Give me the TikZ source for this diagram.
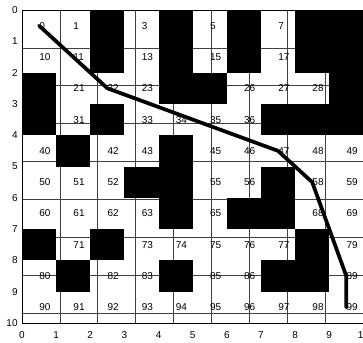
\documentclass[tikz,border=0pt]{standalone}
\usepackage{fontspec}
\setmainfont{Liberation Sans}
\begin{document}
\begin{tikzpicture}[x=25.6pt, y=-23.475pt,
	cellnum/.style={anchor=west, inner sep=0pt, font=\fontsize{7.5pt}{9pt}\selectfont},
	ticknum/.style={inner sep=0pt, font=\fontsize{7.5pt}{9pt}\selectfont},
	route/.style={line width=2.8pt, line cap=round, line join=round}]
		\useasboundingbox (-0.644,-0.319) rectangle (9.988,10.607);
		\draw[black!75, line width=0.6pt] (0,0) grid (10,10);
		% blocked cells
		\foreach \k in {2,4,6,8,9,12,14,16,18,19,20,24,25,29,30,32,37,38,39,41,44,
			53,54,57,64,66,67,70,72,78,81,84,87,88}{
			\pgfmathtruncatemacro{\col}{mod(\k,10)}
			\pgfmathtruncatemacro{\row}{div(\k,10)}
			\fill (\col,\row) rectangle ++(1,1);
		}
		% free cells with their numbers
		\foreach \k in {0,1,3,5,7,10,11,13,15,17,21,22,23,26,27,28,31,33,34,35,36,
			40,42,43,45,46,47,48,49,50,51,52,55,56,58,59,60,61,62,63,65,68,69,
			71,73,74,75,76,77,79,80,82,83,85,86,89,90,91,92,93,94,95,96,97,98,99}{
			\pgfmathtruncatemacro{\col}{mod(\k,10)}
			\pgfmathtruncatemacro{\row}{div(\k,10)}
			\coordinate (c\k) at (\col+0.5,\row+0.5);
			\node[cellnum] (n\k) at (c\k) {\k};
		}
		\draw[line width=0.7pt] (0,0) rectangle (10,10);
		\foreach \t in {0,...,10}{
			\node[ticknum, anchor=east] (ty\t) at (-0.12,\t) {\t};
			\node[ticknum, anchor=north] (tx\t) at (\t,10.26) {\t};
		}
		\draw[route] (c0) -- (c22) -- (c47) -- (c58) -- (c89) -- (c99);
	\end{tikzpicture}
\end{document}
